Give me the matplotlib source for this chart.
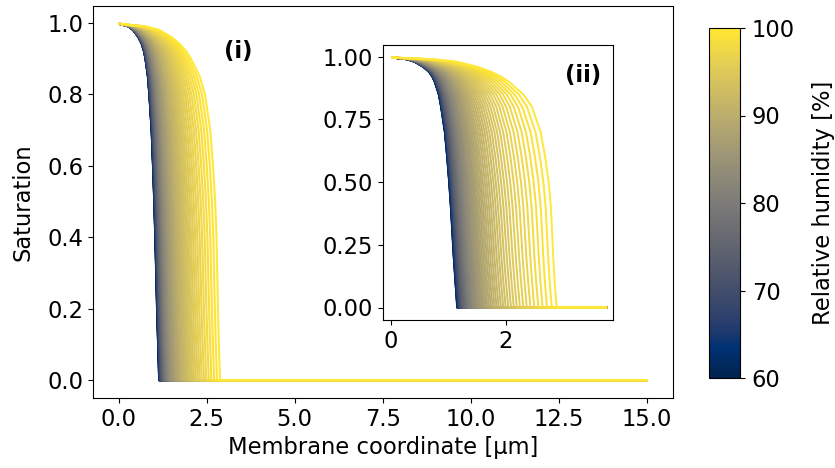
import numpy as np
import matplotlib
matplotlib.use("Agg")
import matplotlib.pyplot as plt
from matplotlib.colors import Normalize
from matplotlib.cm import ScalarMappable

plt.rcParams["font.size"] = 16.3

# relative humidity of each profile [%]
rh = np.arange(60.0, 100.01, 0.5)

# position of the wetting front for each profile [um]
front = [1.150, 1.152, 1.153, 1.155, 1.157, 1.159, 1.161, 1.164, 1.166, 1.168,
         1.171, 1.174, 1.177, 1.180, 1.183, 1.186, 1.190, 1.193, 1.197, 1.201,
         1.206, 1.210, 1.215, 1.220, 1.225, 1.230, 1.236, 1.242, 1.249, 1.255,
         1.262, 1.270, 1.278, 1.286, 1.295, 1.304, 1.313, 1.323, 1.334, 1.345,
         1.356, 1.369, 1.381, 1.395, 1.409, 1.424, 1.440, 1.456, 1.474, 1.492,
         1.511, 1.531, 1.553, 1.575, 1.598, 1.623, 1.649, 1.676, 1.705, 1.735,
         1.766, 1.800, 1.835, 1.871, 1.910, 1.951, 1.993, 2.038, 2.086, 2.135,
         2.187, 2.242, 2.300, 2.360, 2.424, 2.491, 2.562, 2.636, 2.713, 2.795,
         2.881]

# saturation levels and where the driest / wettest profile crosses them
sat_levels = [0.997, 0.99, 0.98, 0.96, 0.94, 0.92, 0.90, 0.85, 0.80,
              0.70, 0.60, 0.50, 0.40, 0.30, 0.20, 0.10, 0.00]
x_dry = [0.02, 0.28, 0.41, 0.56, 0.66, 0.72, 0.76, 0.83, 0.87,
         0.935, 0.975, 1.01, 1.04, 1.065, 1.09, 1.12, 1.15]
x_wet = [0.02, 0.75, 1.15, 1.50, 1.74, 1.92, 2.05, 2.30, 2.45,
         2.60, 2.68, 2.74, 2.78, 2.80, 2.82, 2.845, 2.88]

x_end = 15.0
x_end_inset = 3.74

cmap = plt.get_cmap("cividis")
norm = Normalize(vmin=60, vmax=100)

fig = plt.figure(figsize=(8.35, 4.68), dpi=100)
ax = fig.add_axes([93 / 835, 1 - 398 / 468, 580 / 835, 392 / 468])
axin = fig.add_axes([383 / 835, 1 - 320 / 468, 230 / 835, 275 / 468])
cax = fig.add_axes([709 / 835, 1 - 378 / 468, 31 / 835, 350 / 468])

u_dry = np.array(x_dry) / x_dry[-1]
u_wet = np.array(x_wet) / x_wet[-1]
sat = np.array(sat_levels)

for h, xf in zip(rh, front):
    w = (xf - front[0]) / (front[-1] - front[0])
    xs = xf * ((1 - w) * u_dry + w * u_wet)
    col = cmap(norm(h))
    ax.plot(np.append(xs, x_end), np.append(sat, 0.0), color=col, lw=1.5)
    axin.plot(np.append(xs, x_end_inset), np.append(sat, 0.0), color=col, lw=1.4)

ax.set_xlabel("Membrane coordinate [µm]")
ax.set_ylabel("Saturation", labelpad=9)
ax.set_xticks([0, 2.5, 5, 7.5, 10, 12.5, 15])
ax.set_yticks([0, 0.2, 0.4, 0.6, 0.8, 1.0])
ax.text(0.25, 0.883, "(i)", transform=ax.transAxes, ha="center", va="center",
        fontweight="bold")

axin.set_xlim(-0.14, 3.86)
axin.set_xticks([0, 2])
axin.set_yticks([0, 0.25, 0.5, 0.75, 1.0])
axin.text(0.87, 0.89, "(ii)", transform=axin.transAxes, ha="center", va="center",
          fontweight="bold")

sm = ScalarMappable(norm=norm, cmap=cmap)
cb = fig.colorbar(sm, cax=cax)
cb.set_ticks([60, 70, 80, 90, 100])
cb.ax.tick_params(pad=5)
cb.set_label("Relative humidity [%]", labelpad=12)

fig.savefig("out.png", dpi=100)
